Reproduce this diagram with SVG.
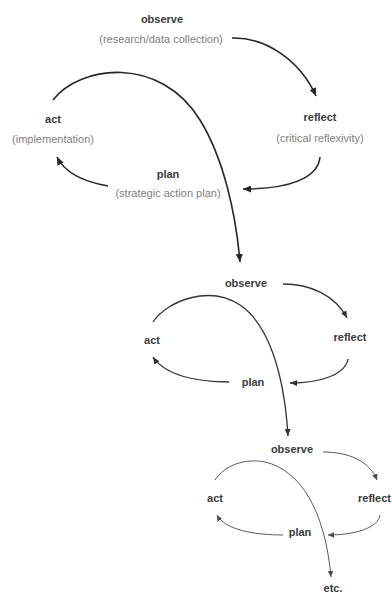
<svg xmlns="http://www.w3.org/2000/svg" width="392" height="594" viewBox="0 0 392 594">
<style>
  text { font-family: "Liberation Sans", Arial, sans-serif; font-size: 11px; text-anchor: middle; }
  .lbl { font-weight: bold; fill: #3a3a3a; }
  .sub { fill: #808080; }
  .c1 { fill: none; stroke: #262626; stroke-width: 1.6; marker-end: url(#ah1); }
  .c2 { fill: none; stroke: #333; stroke-width: 1.3; marker-end: url(#ah2); }
  .c3 { fill: none; stroke: #5a5a5a; stroke-width: 1.0; marker-end: url(#ah3); }
</style>
<defs>
  <marker id="ah1" markerUnits="userSpaceOnUse" markerWidth="9" markerHeight="7" refX="8" refY="3.5" orient="auto"><path d="M0,0 L8,3.5 L0,7 z" fill="#262626"/></marker>
  <marker id="ah2" markerUnits="userSpaceOnUse" markerWidth="8" markerHeight="6" refX="7" refY="3" orient="auto"><path d="M0,0 L7,3 L0,6 z" fill="#333"/></marker>
  <marker id="ah3" markerUnits="userSpaceOnUse" markerWidth="7" markerHeight="6" refX="6" refY="2.75" orient="auto"><path d="M0,0 L6,2.75 L0,5.5 z" fill="#4a4a4a"/></marker>
</defs>
<rect width="392" height="594" fill="#fff"/>
<g id="connectors">
  <path class="c1" d="M232,38 C265,37 300,60 316,96"/>
  <path class="c1" d="M320,157 C318,178 290,189 243,189"/>
  <path class="c1" d="M108,186 C85,182 65,173 57,157"/>
  <path class="c1" d="M53,100 C80,65 160,55 200,120 C224,159 236,215 240,262"/>
  <path class="c2" d="M283,284 C310,284 335,295 347,318"/>
  <path class="c2" d="M348,359 C345,375 320,383 290,383"/>
  <path class="c2" d="M229,382 C195,382 165,375 153,357"/>
  <path class="c2" d="M153,322 C168,300 210,285 240,305 C267,323 284,370 288,436"/>
  <path class="c3" d="M323,452 C350,452 370,462 377,480"/>
  <path class="c3" d="M380,515 C378,528 355,535 328,535"/>
  <path class="c3" d="M283,535 C255,535 225,530 217,515"/>
  <path class="c3" d="M215,480 C225,465 245,458 265,462 C300,470 325,510 331,577"/>
</g>
<g id="observe1"><text class="lbl" x="162" y="23">observe</text><text class="sub" x="161" y="43">(research/data collection)</text></g>
<g id="reflect1"><text class="lbl" x="320" y="121">reflect</text><text class="sub" x="320" y="142">(critical reflexivity)</text></g>
<g id="plan1"><text class="lbl" x="168" y="178">plan</text><text class="sub" x="168" y="197">(strategic action plan)</text></g>
<g id="act1"><text class="lbl" x="53" y="123">act</text><text class="sub" x="53" y="143">(implementation)</text></g>
<g id="observe2"><text class="lbl" x="246" y="287">observe</text></g>
<g id="reflect2"><text class="lbl" x="350" y="341">reflect</text></g>
<g id="plan2"><text class="lbl" x="253" y="386">plan</text></g>
<g id="act2"><text class="lbl" x="152" y="344">act</text></g>
<g id="observe3"><text class="lbl" x="292" y="453">observe</text></g>
<g id="reflect3"><text class="lbl" x="358" y="502" style="text-anchor:start">reflect</text></g>
<g id="plan3"><text class="lbl" x="300" y="536">plan</text></g>
<g id="act3"><text class="lbl" x="215" y="502">act</text></g>
<g id="etc"><text class="lbl" x="333" y="592">etc.</text></g>
</svg>
